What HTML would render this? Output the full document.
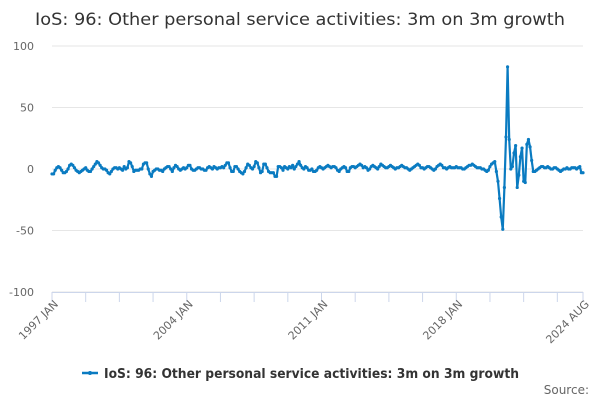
<!DOCTYPE html>
<html><head><meta charset="utf-8"><style>
body{margin:0;background:#fff;}
svg{display:block;font-family:"DejaVu Sans","Liberation Sans",sans-serif;}
</style></head><body>
<svg id="chart" width="600" height="400">
<text x="35" y="25" font-size="17" fill="#333" textLength="530" lengthAdjust="spacingAndGlyphs">IoS: 96: Other personal service activities: 3m on 3m growth</text>
<g id="grid"></g><g id="axes"></g><g id="series"></g>
<g>
<line x1="82" y1="373" x2="98" y2="373" stroke="#0a7bc1" stroke-width="2.5"/>
<circle cx="90" cy="373" r="2" fill="#0a7bc1"/>
<text x="104" y="378" font-size="13" font-weight="bold" fill="#333" textLength="415" lengthAdjust="spacingAndGlyphs">IoS: 96: Other personal service activities: 3m on 3m growth</text>
</g>
<text x="589" y="394" text-anchor="end" font-size="12" fill="#666">Source:</text>
</svg>
<script>
const yTicks=[100,50,0,-50,-100];
const xLabels=["1997 JAN","2004 JAN","2011 JAN","2018 JAN","2024 AUG"];
const xLabelIdx=[0,84,168,252,331];
const values=[
-4,-4,-1,1,2,1,-1,-3,-3,-2,0,3,
4,3,1,-1,-2,-3,-2,-1,0,1,-1,-2,
-2,0,2,4,6,5,3,1,0,0,-1,-3,
-4,-2,0,1,1,0,1,0,-1,2,0,1,
6,5,2,-2,-1,-1,-1,0,0,4,5,5,
0,-4,-6,-2,-1,0,0,-1,-1,-2,0,1,
2,2,0,-2,1,3,2,0,-1,0,1,0,
1,3,3,0,-1,-1,0,1,1,0,0,-1,
-1,1,2,1,0,2,1,0,1,1,2,1,
3,5,5,1,-2,-2,2,2,0,-2,-3,-4,
-2,1,4,3,1,0,2,6,5,1,-3,-2,
4,4,1,-2,-3,-3,-3,-6,-6,2,2,1,
-1,2,1,0,2,1,3,0,2,4,6,3,
1,0,2,1,-1,-1,0,-2,-2,-1,1,2,
1,0,1,2,3,2,1,2,2,1,-1,-2,
0,1,2,1,-2,-2,1,2,2,1,2,3,
4,3,1,2,1,-1,0,2,3,2,1,0,
2,4,3,2,1,1,2,3,2,1,0,1,
1,2,3,2,1,1,0,-1,0,1,2,3,
4,3,1,1,0,1,2,2,1,0,-1,0,
2,3,4,3,1,1,0,1,2,1,1,1,
2,1,1,1,0,0,1,2,3,3,4,3,
2,1,1,1,0,0,-1,-2,-1,2,4,5,
6,-2,-10,-24,-39,-49,-15,26,83,24,0,2,13,19,-15,-5,10,17,-10,-11,20,24,18,7,-2,
-2,-1,0,1,2,2,1,1,2,1,0,0,1,1,0,-1,-2,-1,0,0,1,0,0,1,1,1,0,1,2,-3,-3];
const NS="http://www.w3.org/2000/svg";
const X0=52,X1=583,Y0=169,K=1.23;
const n=values.length;
function xs(i){return X0+i*(X1-X0)/(n-1);}
function ys(v){return Y0-v*K;}
function mk(t,a,p){const e=document.createElementNS(NS,t);for(const k in a)e.setAttribute(k,a[k]);p.appendChild(e);return e;}
const grid=document.getElementById('grid'),axes=document.getElementById('axes'),ser=document.getElementById('series');
yTicks.forEach(v=>{
 const l=mk('line',{x1:X0,x2:X1,y1:ys(v),y2:ys(v),stroke:'#e6e6e6'},grid);
 
 
 const t=mk('text',{x:34,y:ys(v)+4,'text-anchor':'end','font-size':11,fill:'#666'},axes);
 t.textContent=v;
 
 
});
const ax=mk('line',{x1:X0,x2:X1,y1:292.5,y2:292.5,stroke:'#ccd6eb'},axes);


for(let i=0;i<n;i+=21){
 const tk=mk('line',{x1:xs(i),x2:xs(i),y1:292,y2:302,stroke:'#ccd6eb'},axes);
 
 
}
const tl=mk('line',{x1:xs(n-1),x2:xs(n-1),y1:292,y2:302,stroke:'#ccd6eb'},axes);


xLabels.forEach((s,j)=>{
 const x=xs(xLabelIdx[j])+4,y=302;
 const t=mk('text',{x:x,y:y+4,'text-anchor':'end','font-size':11,fill:'#666',transform:`rotate(-45 ${x} ${y})`},axes);
 t.textContent=s;
 
 
});
const path=mk('polyline',{points:values.map((v,i)=>xs(i)+','+ys(v)).join(' '),fill:'none',stroke:'#0a7bc1','stroke-width':2.2,'stroke-linejoin':'round'},ser);


values.forEach((v,i)=>{
 const c=mk('circle',{cx:xs(i),cy:ys(v),r:1.6,fill:'#0a7bc1'},ser);
 
 
});
</script>
</body></html>
